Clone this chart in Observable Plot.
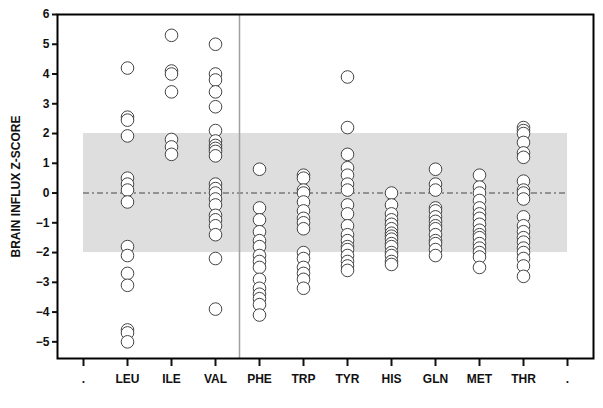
<!DOCTYPE html>
<html>
<head>
<meta charset="utf-8">
<script src="https://cdn.jsdelivr.net/npm/d3@7"></script>
<script src="https://cdn.jsdelivr.net/npm/@observablehq/plot@0.6"></script>
<style>
  html, body { margin: 0; padding: 0; background: #fff; }
  #chart { width: 603px; height: 408px; }
</style>
</head>
<body>
<div id="chart"></div>
<script>
const categories = ["LEU", "ILE", "VAL", "PHE", "TRP", "TYR", "HIS", "GLN", "MET", "THR"];
const leu = [4.2, 2.55, 2.45, 1.92, 0.5, 0.3, 0.1, -0.3, -1.8, -2.1, -2.7, -3.1, -4.6, -4.7, -5.0];
const ile = [5.3, 4.1, 4.0, 3.4, 1.8, 1.55, 1.3];
const val = [5.0, 4.0, 3.8, 3.4, 2.9, 2.1, 1.75, 1.6, 1.5, 1.4, 1.25, 0.3, 0.15, 0.0, -0.2, -0.4, -0.75, -0.9, -1.1, -1.4, -2.2, -3.9];
const phe = [0.8, -0.5, -0.9, -1.3, -1.6, -1.8, -2.1, -2.3, -2.5, -2.9, -3.2, -3.4, -3.55, -3.75, -4.1];
const trp = [0.6, 0.5, 0.1, 0.0, -0.3, -0.6, -0.85, -1.0, -1.2, -2.0, -2.2, -2.5, -2.7, -2.9, -3.2];
const tyr = [3.9, 2.2, 1.3, 0.85, 0.6, 0.3, 0.1, -0.4, -0.7, -1.1, -1.4, -1.6, -1.8, -1.9, -2.1, -2.3, -2.45, -2.6];
const his = [0.0, -0.4, -0.7, -0.9, -1.05, -1.2, -1.35, -1.45, -1.55, -1.7, -1.8, -2.0, -2.1, -2.3, -2.4];
const gln = [0.8, 0.3, 0.1, -0.5, -0.6, -0.8, -0.95, -1.1, -1.2, -1.4, -1.6, -1.7, -1.9, -2.1];
const met = [0.6, 0.2, 0.0, -0.25, -0.5, -0.7, -0.85, -1.05, -1.25, -1.4, -1.5, -1.7, -1.85, -2.0, -2.15, -2.5];
const thr = [2.2, 2.1, 2.0, 1.7, 1.35, 1.2, 0.4, 0.1, 0.0, -0.2, -0.8, -1.1, -1.3, -1.5, -1.65, -1.85, -2.0, -2.2, -2.45, -2.8];
const yTicks = [-5, -4, -3, -2, -1, 0, 1, 2, 3, 4, 5, 6];
const edgeKeys = ["L", "R"];
const normalBand = [{from: "L", to: "R", lo: -2, hi: 2}];
const zeroLine = [{from: "L", to: "R", y: 0}];
const dividerAt = ["PHE"];

const series = [leu, ile, val, phe, trp, tyr, his, gln, met, thr];
const data = categories.flatMap((c, i) => series[i].map(v => ({cat: c, z: v})));

const chart = Plot.plot({
  width: 603,
  height: 408,
  marginLeft: 57,
  marginRight: 10,
  marginTop: 14,
  marginBottom: 50,
  style: {fontFamily: "'Liberation Sans', Arial, sans-serif", fontSize: "12px", fontWeight: "bold", color: "#111", background: "white"},
  x: {type: "point", domain: [edgeKeys[0], ...categories, edgeKeys[1]], padding: 0.48},
  y: {domain: [-5.56, 6]},
  marks: [
    Plot.rect(normalBand, {x1: "from", x2: "to", y1: "lo", y2: "hi", fill: "#dedede"}),
    Plot.ruleY(zeroLine, {y: "y", x1: "from", x2: "to", stroke: "#7a7a7a", strokeWidth: 1.5, strokeDasharray: "6,3,2,3"}),
    Plot.ruleX(dividerAt, {dx: -20, stroke: "#a0a0a0", strokeWidth: 1.5}),
    Plot.dot(data, {x: "cat", y: "z", r: 6.3, fill: "white", stroke: "#444", strokeWidth: 1}),
    Plot.axisX({tickSize: 8, tickPadding: 8, strokeWidth: 2, tickFormat: d => edgeKeys.includes(d) ? "." : d, label: null, fontSize: 12, fontWeight: "bold"}),
    Plot.axisY({ticks: yTicks, tickSize: 5, tickPadding: 3, strokeWidth: 2, label: "BRAIN INFLUX Z-SCORE", labelAnchor: "center", labelArrow: "none", labelOffset: 46, fontSize: 12, fontWeight: "bold"}),
    Plot.frame({stroke: "black", strokeWidth: 2})
  ]
});
document.getElementById("chart").appendChild(chart);
</script>
</body>
</html>
